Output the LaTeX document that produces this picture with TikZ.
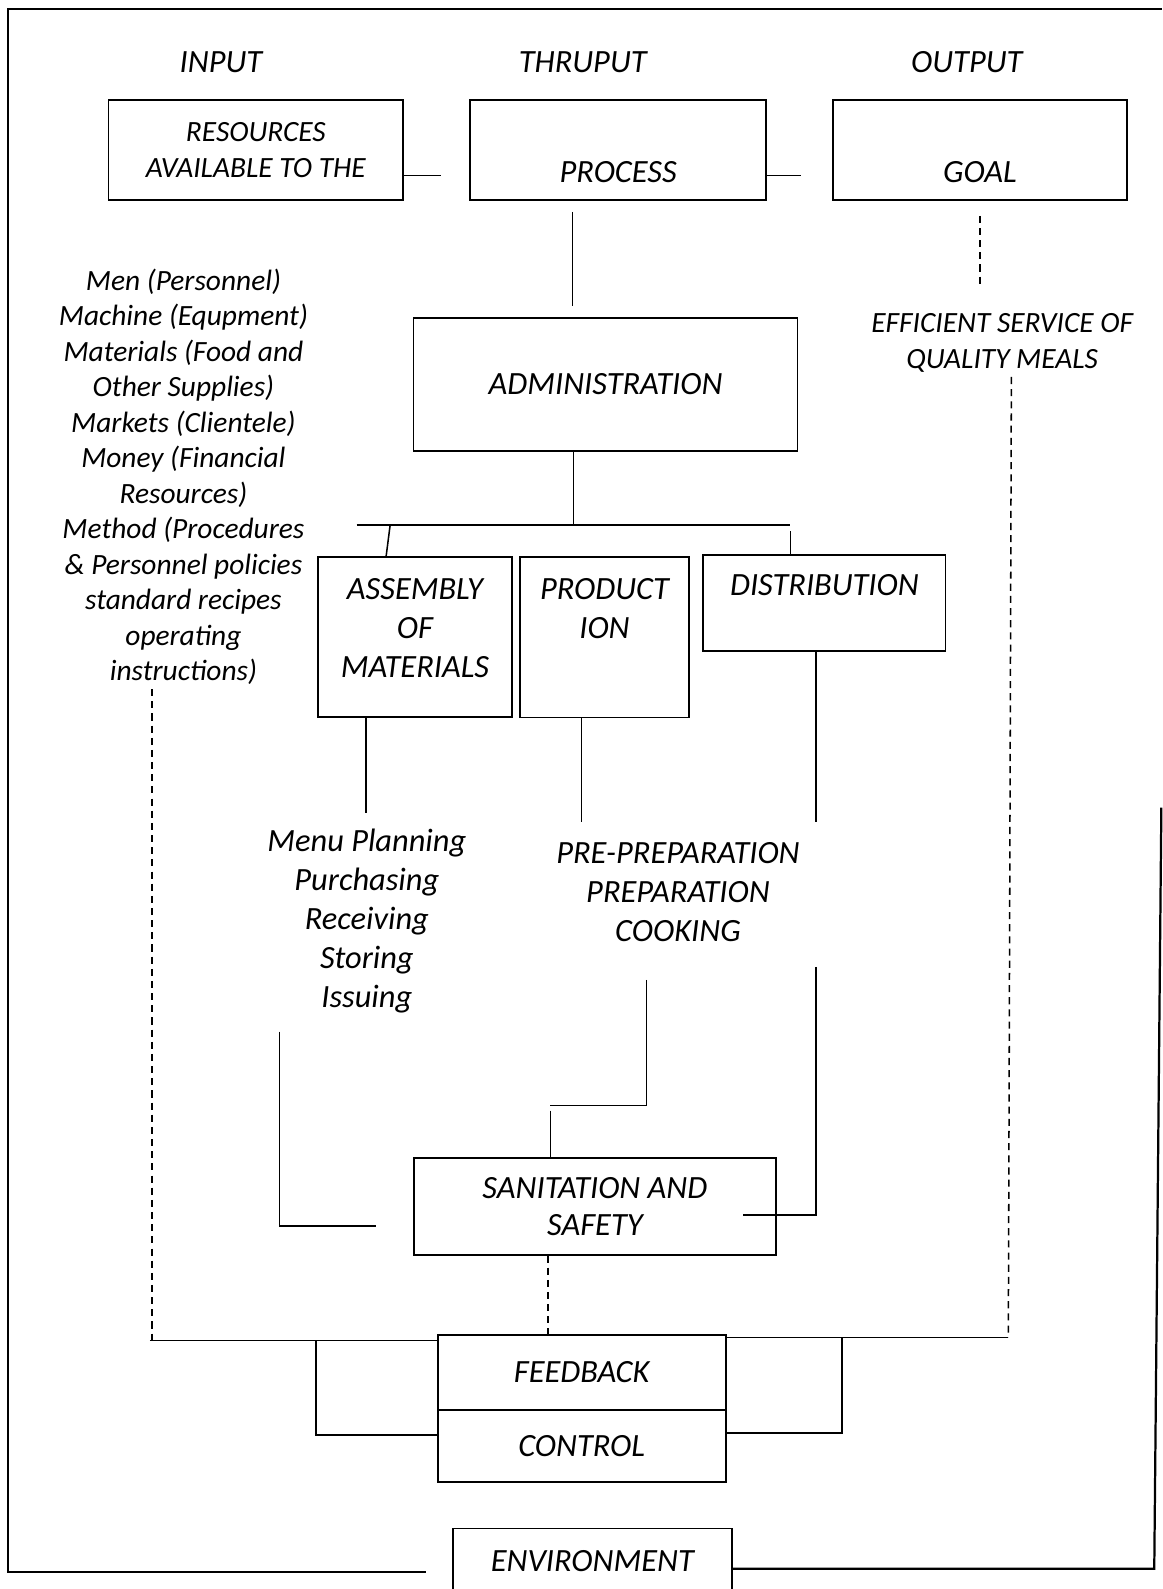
\documentclass[tikz,border=0pt]{standalone}
\usepackage{fontspec}
\setmainfont{Carlito}
\usetikzlibrary{positioning}
\tikzset{box/.style={draw, line width=0.9pt, inner sep=0pt, align=center},
lbl/.style={inner sep=0pt, align=center},
small/.style={font=\fontsize{14.5}{17.5}\selectfont\itshape},
link/.style={line width=0.75pt},
dashlink/.style={line width=0.75pt, dash pattern=on 3.5pt off 2.5pt},
frame/.style={line width=1.1pt}
}

\begin{document}
\begin{tikzpicture}[x=0.5pt, y=-0.5pt,
    every node/.style={font=\fontsize{16}{19.25}\selectfont\itshape}]
      \useasboundingbox (0,0) rectangle (1147,1568);

      % headings
      \node[lbl] (input)   at (218,61) {INPUT};
      \node[lbl] (thruput) at (575,61) {THRUPUT};
      \node[lbl] (output)  at (954,61) {OUTPUT};

      % top row
      \node[box, small, minimum width=145.5pt, minimum height=49pt] (resources) at (252.5,148) {RESOURCES\\AVAILABLE TO THE};
      \node[box, minimum width=146pt, minimum height=49pt]   (process)   at (610,148)   {};
      \node[lbl] (process_t) [above=8.35pt of process.south] {PROCESS};
      \node[box, minimum width=145pt, minimum height=49pt]   (goal)      at (967,148)   {};
      \node[lbl] (goal_t) [above=8.35pt of goal.south] {GOAL};
      \node[lbl, small] (meals) at (989,338.5) {EFFICIENT SERVICE OF\\QUALITY MEALS};

      \node[lbl, small] (resources_list) at (181,470.5) {Men (Personnel)\\Machine (Equpment)\\Materials (Food and\\Other Supplies)\\Markets (Clientele)\\Money (Financial\\Resources)\\Method (Procedures\\\& Personnel policies\\standard recipes\\operating\\instructions)};

      % thruput
      \node[box, minimum width=189.5pt, minimum height=65.5pt] (admin) at (597.5,379.5) {ADMINISTRATION};
      \node[box, minimum width=95.5pt, minimum height=78.75pt] (assembly) at (409.5,628.75) {};
      \node[lbl] (assembly_t) [below=10.85pt of assembly.north] {ASSEMBLY\\OF\\MATERIALS};
      \node[box, minimum width=83.5pt, minimum height=79pt] (production) at (596.5,629) {};
      \node[lbl] (production_t) [below=10.85pt of production.north] {PRODUCT\\ION};
      \node[box, minimum width=119.5pt, minimum height=47.5pt] (distribution) at (813.5,595) {};
      \node[lbl] (distribution_t) [below=10.1pt of distribution.north] {DISTRIBUTION};

      \node[lbl] (menu)    at (362,909)   {Menu Planning\\Purchasing\\Receiving\\Storing\\Issuing};
      \node[lbl] (cooking) at (669,880.5) {PRE-PREPARATION\\PREPARATION\\COOKING};

      \node[box, font=\fontsize{16}{18.5}\selectfont\itshape, minimum width=178.5pt, minimum height=47.5pt] (sanitation) at (587,1190.5) {SANITATION AND\\SAFETY};
      \node[box, minimum width=142pt, minimum height=37pt]   (feedback)    at (574,1354)   {FEEDBACK};
      \node[box, minimum width=142pt, minimum height=35.5pt] (control)     at (574,1426.5) {CONTROL};
      \node[box, minimum width=137.5pt, minimum height=31.7pt] (environment) at (584.5,1540) {ENVIRONMENT};

      % free ends of the connectors
      \coordinate (rp) at (435,173);
      \coordinate (pg) at (790,173);
      \coordinate (pa_top) at (565,209);
      \coordinate (pa_bot) at (565,302);
      \coordinate (gd_top) at (967,213);
      \coordinate (gd_bot) at (967,285);
      \coordinate (bus_l) at (352,518);
      \coordinate (bus_r) at (780,518);
      \coordinate (bus_m) at (566,518);
      \coordinate (slant) at (385,518);
      \coordinate (slant_b) at (381,550);
      \coordinate (tick) at (780,524);
      \coordinate (am) at (361,802);
      \coordinate (pm) at (574,811);
      \coordinate (dm) at (805,811);
      \coordinate (le_top) at (276,1018);
      \coordinate (le_end) at (371,1210);
      \coordinate (me_top) at (638,967);
      \coordinate (me_mid) at (543,1091);
      \coordinate (me_low) at (543,1096);
      \coordinate (re_top) at (805,954);
      \coordinate (re_end) at (733,1199);
      \coordinate (sf) at ([xshift=-23pt]sanitation.south);
      \coordinate (ld_top) at (150,680);
      \coordinate (ld_bot) at (150,1323);
      \coordinate (rd_top) at (998,372);
      \coordinate (rd_bot) at (995,1320);
      \coordinate (lb) at (312,1323);
      \coordinate (rb) at (831,1320);
      \coordinate (fr_tl) at (8,9);
      \coordinate (fr_tr) at (1147,9);
      \coordinate (fr_bl) at (8,1551);
      \coordinate (fr_bm) at (420,1551);
      \coordinate (fr_rt) at (1146,797);
      \coordinate (fr_br) at (1139,1548);

      \draw[link] (resources.east |- rp) -- (rp);
      \draw[link] (process.east |- pg) -- (pg);
      \draw[link] (pa_top) -- (pa_bot);
      \draw[dashlink] (gd_top) -- (gd_bot);
      \draw[dashlink] (rd_top) -- (rd_bot);
      \draw[link] (rd_bot) -- (rd_bot -| feedback.east);
      \draw[link] (admin.south -| bus_m) -- (bus_m);
      \draw[link] (bus_l) -- (bus_r);
      \draw[link] (slant) -- (slant_b |- assembly.north);
      \draw[link] (tick) -- (tick |- distribution.north);
      \draw[link] (assembly.south -| am) -- (am);
      \draw[link] (production.south -| pm) -- (pm);
      \draw[link] (distribution.south -| dm) -- (dm);
      \draw[link] (le_top) |- (le_end);
      \draw[link] (me_top) |- (me_mid);
      \draw[link] (me_low) -- (me_low |- sanitation.north);
      \draw[link] (re_top) |- (re_end);
      \draw[dashlink] (sf) -- (sf |- feedback.north);
      \draw[dashlink] (ld_top) -- (ld_bot);
      \draw[link] ([xshift=-1pt]ld_bot) -- (ld_bot -| feedback.west);
      \draw[link] (lb) |- ([yshift=5.25pt]control.west);
      \draw[link] (rb) |- ([yshift=6.25pt]control.east);

      % environment frame
      \draw[frame] (fr_bm) -- (fr_bl) -- (fr_tl) -- (fr_tr);
      \draw[frame] (environment.east |- fr_br) -- (fr_br) -- (fr_rt);
\end{tikzpicture}
\end{document}
